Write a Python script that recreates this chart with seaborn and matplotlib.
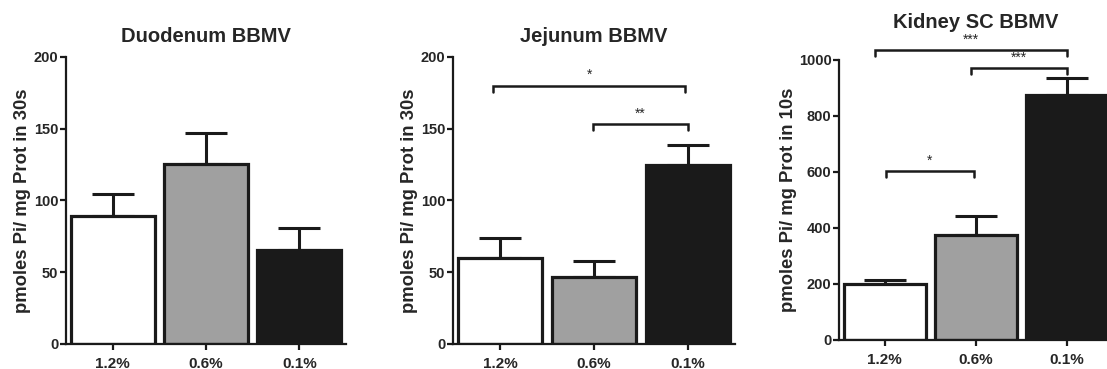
import numpy as np
import pandas as pd
import seaborn as sns
import matplotlib.pyplot as plt

diets = ['1.2%', '0.6%', '0.1%']
colors = ['#ffffff', '#a0a0a0', '#1a1a1a']

titles = ['Duodenum BBMV', 'Jejunum BBMV', 'Kidney SC BBMV']
ylabels = ['pmoles Pi/ mg Prot in 30s', 'pmoles Pi/ mg Prot in 30s',
           'pmoles Pi/ mg Prot in 10s']

duodenum_mean = [89.5, 125.5, 65.5]
duodenum_sem = [15.0, 21.5, 15.5]
jejunum_mean = [60.0, 46.5, 124.5]
jejunum_sem = [14.0, 11.5, 14.0]
kidney_mean = [198, 375, 873]
kidney_sem = [15, 66, 60]

ylims = [200, 200, 1000]
ysteps = [50, 50, 200]

# significance brackets: (x_left, x_right, y, label)
jejunum_sig = [(-0.07, 1.97, 180, '*'), (0.99, 2.0, 153, '**')]
kidney_sig = [(-0.11, 2.0, 1034, '***'), (0.95, 2.0, 970, '***'), (0.01, 0.98, 603, '*')]
sig_list = [[], jejunum_sig, kidney_sig]

means = [duodenum_mean, jejunum_mean, kidney_mean]
sems = [duodenum_sem, jejunum_sem, kidney_sem]

sns.set_style('ticks')
plt.rcParams['font.family'] = ['Liberation Sans', 'DejaVu Sans']
plt.rcParams['font.weight'] = 'bold'

fig = plt.figure(figsize=(11.07, 3.69), dpi=100)
positions = [
    [0.0596, 0.0678, 0.2530, 0.7778],
    [0.4092, 0.0678, 0.2547, 0.7778],
    [0.7580, 0.0786, 0.2466, 0.7596],
]
title_pads = [11, 11, 23]
label_x = [-0.125, -0.125, -0.155]

for i in range(3):
    ax = fig.add_axes(positions[i])
    df = pd.DataFrame({'diet': diets, 'value': means[i]})
    sns.barplot(data=df, x='diet', y='value', hue='diet', palette=colors,
                width=0.9, edgecolor='#1a1a1a', linewidth=2.3, saturation=1,
                errorbar=None, legend=False, ax=ax, zorder=2)
    xs = np.arange(3)
    ax.errorbar(xs, means[i], yerr=[np.zeros(3), sems[i]], fmt='none',
                ecolor='#1a1a1a', elinewidth=2.2, capsize=15, capthick=2.2,
                zorder=1)
    ax.set_xlim(-0.5, 2.5)
    ax.set_ylim(0, ylims[i])
    ax.set_yticks(np.arange(0, ylims[i] + 1, ysteps[i]))
    ax.set_xlabel('')
    ax.set_ylabel(ylabels[i], fontsize=13.3, fontweight='bold')
    ax.yaxis.set_label_coords(label_x[i], 0.5)
    ax.set_title(titles[i], fontsize=14.5, fontweight='bold', pad=title_pads[i])
    for s in ['top', 'right']:
        ax.spines[s].set_visible(False)
    for s in ['left', 'bottom']:
        ax.spines[s].set_linewidth(1.6)
        ax.spines[s].set_color('#1a1a1a')
    ax.tick_params(axis='both', width=1.6, length=4.5, color='#1a1a1a')
    ax.tick_params(axis='y', labelsize=10.5, pad=1)
    ax.tick_params(axis='x', labelsize=11, pad=5)
    for lab in ax.get_xticklabels() + ax.get_yticklabels():
        lab.set_fontweight('bold')
    tick_h = ylims[i] * 0.021
    for x0, x1, y, text in sig_list[i]:
        ax.plot([x0, x0, x1, x1], [y - tick_h, y, y, y - tick_h], color='#1a1a1a',
                lw=1.8, clip_on=False, solid_joinstyle='miter')
        ax.text((x0 + x1) / 2, y + ylims[i] * 0.012, text, ha='center', va='bottom',
                fontsize=10, fontweight='normal', clip_on=False)

fig.savefig('out.png', dpi=100)
